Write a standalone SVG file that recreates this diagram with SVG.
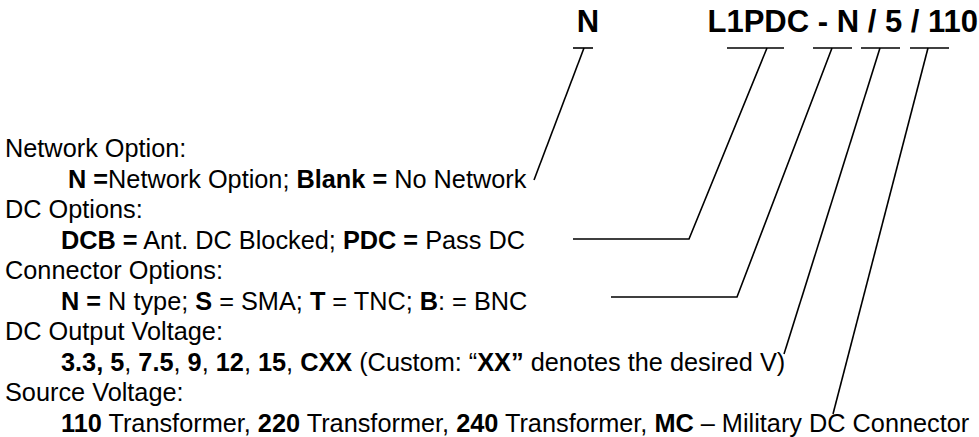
<svg xmlns="http://www.w3.org/2000/svg" width="979" height="437" viewBox="0 0 979 437">
<style>
text{font-family:"Liberation Sans",Arial,sans-serif;fill:#000}
.t{font-size:25.3px}
.b{font-weight:bold}
.code{font-size:31px;font-weight:bold}
.ln{stroke:#000;stroke-width:1.6;fill:none;stroke-linejoin:miter}
</style>
<rect width="979" height="437" fill="#fff"/>
<g id="code">
<text class="code" x="588" y="32" text-anchor="middle">N</text>
<text class="code" x="978" y="32" text-anchor="end">L1PDC - N / 5 / 110</text>
</g>
<g id="network">
<text class="t" x="5" y="157">Network Option:</text>
<text class="t" x="68" y="187.5"><tspan class="b">N =</tspan>Network Option; <tspan class="b">Blank =</tspan> No Network</text>
</g>
<g id="dc-options">
<text class="t" x="5" y="218">DC Options:</text>
<text class="t" x="61" y="248.5"><tspan class="b">DCB =</tspan> Ant. DC Blocked; <tspan class="b">PDC =</tspan> Pass DC</text>
</g>
<g id="connector-options">
<text class="t" x="5" y="279">Connector Options:</text>
<text class="t" x="61" y="309.5"><tspan class="b">N =</tspan> N type; <tspan class="b">S</tspan> = SMA; <tspan class="b">T</tspan> = TNC; <tspan class="b">B</tspan>: = BNC</text>
</g>
<g id="dc-output">
<text class="t" x="5" y="340">DC Output Voltage:</text>
<text class="t" x="61" y="370.5"><tspan class="b">3.3, 5</tspan>, <tspan class="b">7.5</tspan>, <tspan class="b">9</tspan>, <tspan class="b">12</tspan>, <tspan class="b">15</tspan>, <tspan class="b">CXX</tspan> (Custom: “<tspan class="b">XX”</tspan> denotes the desired V)</text>
</g>
<g id="source-voltage">
<text class="t" x="5" y="401">Source Voltage:</text>
<text class="t" x="61" y="431.5"><tspan class="b">110</tspan> Transformer, <tspan class="b">220</tspan> Transformer, <tspan class="b">240</tspan> Transformer, <tspan class="b">MC</tspan> – Military DC Connector</text>
</g>
<g id="connectors">
<line class="ln" x1="573" y1="48" x2="593" y2="48"/>
<line class="ln" x1="727" y1="48" x2="784" y2="48"/>
<line class="ln" x1="813" y1="48" x2="852" y2="48"/>
<line class="ln" x1="861" y1="48" x2="900" y2="48"/>
<line class="ln" x1="910" y1="48" x2="949" y2="48"/>
<polyline class="ln" points="584,48 534,180"/>
<polyline class="ln" points="767,48 689,239 573,239"/>
<polyline class="ln" points="832,48 737,297 611,297"/>
<polyline class="ln" points="880,48 784,354"/>
<polyline class="ln" points="928,48 833,414"/>
</g>
</svg>
